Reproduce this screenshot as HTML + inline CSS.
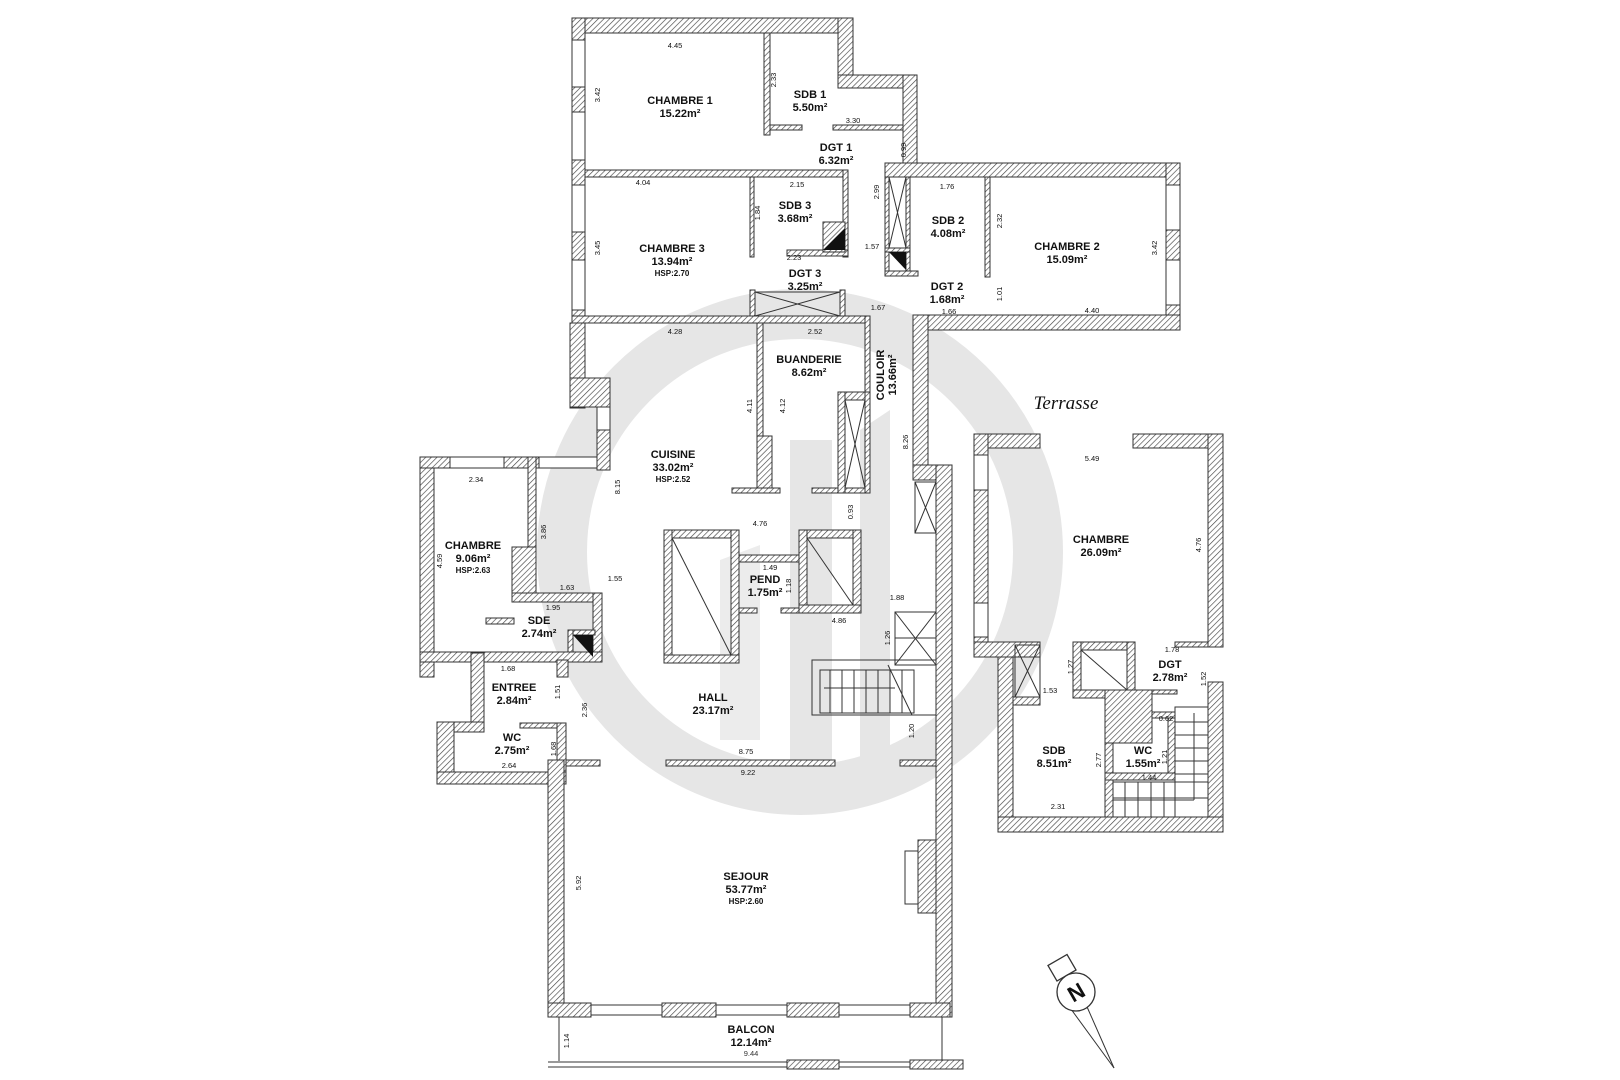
<!DOCTYPE html>
<html><head><meta charset="utf-8"><style>
html,body{margin:0;padding:0;background:#fff}
svg{display:block}
text{font-family:"Liberation Sans",Arial,sans-serif;fill:#111;text-anchor:middle}
.n{font-size:11px;font-weight:bold}
.a{font-size:11px;font-weight:bold}
.h{font-size:8px;font-weight:bold}
.d{font-size:7.5px;fill:#333}
</style></head><body>
<svg width="1620" height="1080" viewBox="0 0 1620 1080" xmlns="http://www.w3.org/2000/svg">
<defs>
<pattern id="ht" patternUnits="userSpaceOnUse" width="4" height="4" patternTransform="rotate(45)">
<rect width="4" height="4" fill="#fff"/><line x1="0" y1="0" x2="0" y2="4" stroke="#444" stroke-width="1.3"/>
</pattern>
</defs>
<!-- watermark -->
<g fill="none" stroke="#e6e6e6">
<circle cx="800" cy="552" r="238" stroke-width="50"/>
</g>
<polygon points="790,440 832,440 832,800 790,800" fill="#e6e6e6"/>
<polygon points="860,430 890,410 890,760 860,780" fill="#e6e6e6"/>
<polygon points="720,560 760,545 760,740 720,740" fill="#ececec"/>

<g fill="url(#ht)" stroke="#333" stroke-width="1">
<!-- top block -->
<rect x="572" y="18" width="281" height="15"/>
<rect x="572" y="18" width="13" height="305"/>
<rect x="838" y="18" width="15" height="70"/>
<rect x="838" y="75" width="79" height="13"/>
<rect x="903" y="75" width="14" height="98"/>
<rect x="764" y="33" width="6" height="102"/>
<rect x="770" y="125" width="32" height="5"/>
<rect x="833" y="125" width="70" height="5"/>
<rect x="585" y="170" width="261" height="7"/>
<rect x="843" y="170" width="5" height="87"/>
<rect x="750" y="177" width="4" height="80"/>
<rect x="787" y="250" width="61" height="6"/>
<rect x="823" y="222" width="22" height="30"/>
<rect x="885" y="163" width="295" height="14"/>
<rect x="885" y="177" width="4" height="98"/>
<rect x="906" y="177" width="4" height="98"/>
<rect x="885" y="248" width="25" height="4"/>
<rect x="885" y="271" width="33" height="5"/>
<rect x="1166" y="163" width="14" height="167"/>
<rect x="913" y="315" width="267" height="15"/>
<rect x="985" y="177" width="5" height="100"/>
<rect x="913" y="315" width="15" height="165"/>
<rect x="750" y="290" width="5" height="30"/>
<rect x="840" y="290" width="5" height="30"/>
<rect x="572" y="316" width="298" height="7"/>
<!-- cuisine / buanderie -->
<rect x="570" y="323" width="15" height="85"/>
<rect x="570" y="378" width="40" height="29"/>
<rect x="597" y="430" width="13" height="40"/>
<rect x="757" y="323" width="6" height="167"/>
<rect x="757" y="436" width="15" height="57"/>
<rect x="732" y="488" width="48" height="5"/>
<rect x="812" y="488" width="58" height="5"/>
<rect x="865" y="316" width="5" height="90"/>
<rect x="838" y="392" width="32" height="8"/>
<rect x="838" y="392" width="7" height="101"/>
<rect x="865" y="392" width="5" height="101"/>
<!-- left chambre -->
<rect x="420" y="457" width="14" height="220"/>
<rect x="420" y="457" width="30" height="11"/>
<rect x="504" y="457" width="35" height="11"/>
<rect x="528" y="457" width="8" height="138"/>
<rect x="512" y="547" width="24" height="48"/>
<rect x="512" y="593" width="90" height="9"/>
<rect x="593" y="593" width="9" height="67"/>
<rect x="486" y="618" width="28" height="6"/>
<rect x="568" y="630" width="27" height="5"/>
<rect x="568" y="630" width="5" height="27"/>
<rect x="420" y="652" width="182" height="10"/>
<rect x="471" y="653" width="13" height="70"/>
<rect x="557" y="660" width="11" height="17"/>
<rect x="437" y="722" width="47" height="10"/>
<rect x="437" y="722" width="17" height="60"/>
<rect x="520" y="723" width="44" height="5"/>
<rect x="557" y="723" width="9" height="55"/>
<rect x="437" y="772" width="129" height="12"/>
<!-- hall -->
<rect x="664" y="530" width="75" height="8"/>
<rect x="664" y="530" width="8" height="133"/>
<rect x="731" y="530" width="8" height="133"/>
<rect x="664" y="655" width="75" height="8"/>
<rect x="799" y="530" width="62" height="8"/>
<rect x="799" y="530" width="8" height="83"/>
<rect x="853" y="530" width="8" height="83"/>
<rect x="799" y="605" width="62" height="8"/>
<rect x="739" y="555" width="60" height="7"/>
<rect x="739" y="608" width="18" height="5"/>
<rect x="781" y="608" width="18" height="5"/>
<rect x="913" y="465" width="39" height="15"/>
<rect x="936" y="465" width="16" height="552"/>
<rect x="548" y="760" width="16" height="257"/>
<rect x="566" y="760" width="34" height="6"/>
<rect x="666" y="760" width="169" height="6"/>
<rect x="900" y="760" width="36" height="6"/>
<rect x="918" y="840" width="18" height="73"/>
<rect x="548" y="1003" width="43" height="14"/>
<rect x="662" y="1003" width="54" height="14"/>
<rect x="787" y="1003" width="52" height="14"/>
<rect x="910" y="1003" width="40" height="14"/>
<rect x="787" y="1060" width="52" height="9"/>
<rect x="910" y="1060" width="53" height="9"/>
<!-- right block -->
<rect x="974" y="434" width="66" height="14"/>
<rect x="1133" y="434" width="90" height="14"/>
<rect x="974" y="434" width="14" height="223"/>
<rect x="1208" y="434" width="15" height="213"/>
<rect x="974" y="642" width="66" height="15"/>
<rect x="998" y="657" width="15" height="175"/>
<rect x="1013" y="697" width="27" height="8"/>
<rect x="1073" y="642" width="62" height="8"/>
<rect x="1073" y="642" width="8" height="55"/>
<rect x="1127" y="642" width="8" height="55"/>
<rect x="1073" y="690" width="79" height="8"/>
<rect x="1105" y="690" width="47" height="53"/>
<rect x="1175" y="642" width="33" height="5"/>
<rect x="1152" y="690" width="25" height="4"/>
<rect x="1152" y="712" width="23" height="6"/>
<rect x="1168" y="718" width="7" height="62"/>
<rect x="1105" y="743" width="8" height="89"/>
<rect x="1105" y="773" width="70" height="7"/>
<rect x="1208" y="682" width="15" height="150"/>
<rect x="998" y="817" width="225" height="15"/>
</g>
<g fill="none" stroke="#333" stroke-width="1">
<!-- windows left outer wall -->
<rect x="572" y="40" width="13" height="47" fill="#fff"/>
<rect x="572" y="112" width="13" height="48" fill="#fff"/>
<rect x="572" y="185" width="13" height="47" fill="#fff"/>
<rect x="572" y="260" width="13" height="50" fill="#fff"/>
<rect x="1166" y="185" width="14" height="45" fill="#fff"/>
<rect x="1166" y="260" width="14" height="45" fill="#fff"/>
<rect x="974" y="455" width="14" height="35" fill="#fff"/>
<rect x="974" y="603" width="14" height="34" fill="#fff"/>
<rect x="450" y="457" width="54" height="11" fill="#fff"/>
<rect x="539" y="457" width="58" height="11" fill="#fff"/>
<rect x="597" y="407" width="13" height="23" fill="#fff"/>
<line x1="591" y1="1005" x2="662" y2="1005"/><line x1="591" y1="1015" x2="662" y2="1015"/>
<line x1="716" y1="1005" x2="787" y2="1005"/><line x1="716" y1="1015" x2="787" y2="1015"/>
<line x1="839" y1="1005" x2="910" y2="1005"/><line x1="839" y1="1015" x2="910" y2="1015"/>
<line x1="548" y1="1062" x2="787" y2="1062"/><line x1="548" y1="1067" x2="787" y2="1067"/>
<line x1="839" y1="1062" x2="910" y2="1062"/><line x1="839" y1="1067" x2="910" y2="1067"/>
<line x1="559" y1="1017" x2="559" y2="1061"/><line x1="942" y1="1017" x2="942" y2="1061"/>
<rect x="905" y="851" width="13" height="53" fill="#fff"/>
<!-- shafts with X -->
<rect x="889" y="177" width="17" height="71"/><line x1="889" y1="177" x2="906" y2="248"/><line x1="906" y1="177" x2="889" y2="248"/>
<rect x="755" y="292" width="85" height="24"/><line x1="755" y1="292" x2="840" y2="316"/><line x1="840" y1="292" x2="755" y2="316"/>
<rect x="845" y="400" width="20" height="88"/><line x1="845" y1="400" x2="865" y2="488"/><line x1="865" y1="400" x2="845" y2="488"/>
<rect x="915" y="482" width="21" height="51"/><line x1="915" y1="482" x2="936" y2="533"/><line x1="936" y1="482" x2="915" y2="533"/>
<rect x="895" y="612" width="41" height="53"/><line x1="895" y1="612" x2="936" y2="665"/><line x1="936" y1="612" x2="895" y2="665"/><line x1="895" y1="638" x2="936" y2="638"/>
<rect x="1015" y="645" width="25" height="52"/><line x1="1015" y1="645" x2="1040" y2="697"/><line x1="1040" y1="645" x2="1015" y2="697"/>
<line x1="672" y1="538" x2="731" y2="655"/>
<line x1="807" y1="538" x2="853" y2="605"/>
<line x1="1081" y1="650" x2="1127" y2="690"/>
<!-- stairs -->
<rect x="812" y="660" width="124" height="55"/>
<rect x="820" y="670" width="94" height="43"/>
<line x1="830" y1="670" x2="830" y2="713"/><line x1="842" y1="670" x2="842" y2="713"/><line x1="854" y1="670" x2="854" y2="713"/><line x1="866" y1="670" x2="866" y2="713"/><line x1="878" y1="670" x2="878" y2="713"/><line x1="890" y1="670" x2="890" y2="713"/><line x1="902" y1="670" x2="902" y2="713"/>
<line x1="824" y1="688" x2="895" y2="688"/><line x1="888" y1="665" x2="912" y2="715"/>
<rect x="1175" y="707" width="33" height="110"/>
<line x1="1175" y1="722" x2="1208" y2="722"/><line x1="1175" y1="735" x2="1208" y2="735"/><line x1="1175" y1="748" x2="1208" y2="748"/><line x1="1175" y1="761" x2="1208" y2="761"/><line x1="1175" y1="774" x2="1208" y2="774"/>
<line x1="1113" y1="782" x2="1208" y2="782"/><line x1="1113" y1="798" x2="1208" y2="798"/>
<line x1="1125" y1="782" x2="1125" y2="817"/><line x1="1138" y1="782" x2="1138" y2="817"/><line x1="1151" y1="782" x2="1151" y2="817"/><line x1="1164" y1="782" x2="1164" y2="817"/>
<line x1="1194" y1="713" x2="1194" y2="800"/><line x1="1113" y1="800" x2="1194" y2="800"/>
<!-- compass -->
<line x1="1068" y1="1005" x2="1114" y2="1068"/><line x1="1084" y1="1000" x2="1114" y2="1068"/>
<g transform="rotate(-30 1076 992)"><rect x="1065" y="955" width="22" height="18" fill="#fff" stroke-width="1.3"/></g>
<circle cx="1076" cy="992" r="19" fill="#fff" stroke-width="1.3"/>
</g>
<polygon points="823,250 845,250 845,228" fill="#111"/>
<polygon points="889,252 906,252 906,270" fill="#111"/>
<polygon points="573,635 593,635 593,657" fill="#111"/>
<text x="1076" y="1000" transform="rotate(-30 1076 992)" style="font-size:22px;font-weight:bold">N</text>

<!-- labels -->
<text class="n" x="680" y="104">CHAMBRE 1</text><text class="a" x="680" y="117">15.22m²</text>
<text class="n" x="810" y="98">SDB 1</text><text class="a" x="810" y="111">5.50m²</text>
<text class="n" x="836" y="151">DGT 1</text><text class="a" x="836" y="164">6.32m²</text>
<text class="n" x="672" y="252">CHAMBRE 3</text><text class="a" x="672" y="265">13.94m²</text><text class="h" x="672" y="276">HSP:2.70</text>
<text class="n" x="795" y="209">SDB 3</text><text class="a" x="795" y="222">3.68m²</text>
<text class="n" x="805" y="277">DGT 3</text><text class="a" x="805" y="290">3.25m²</text>
<text class="n" x="948" y="224">SDB 2</text><text class="a" x="948" y="237">4.08m²</text>
<text class="n" x="1067" y="250">CHAMBRE 2</text><text class="a" x="1067" y="263">15.09m²</text>
<text class="n" x="947" y="290">DGT 2</text><text class="a" x="947" y="303">1.68m²</text>
<text class="n" x="809" y="363">BUANDERIE</text><text class="a" x="809" y="376">8.62m²</text>
<text class="n" transform="translate(884,375) rotate(-90)" x="0" y="0">COULOIR</text>
<text class="a" transform="translate(896,375) rotate(-90)" x="0" y="0">13.66m²</text>
<text class="n" x="673" y="458">CUISINE</text><text class="a" x="673" y="471">33.02m²</text><text class="h" x="673" y="482">HSP:2.52</text>
<text x="1066" y="409" style="font-family:'Liberation Serif',serif;font-style:italic;font-size:19px">Terrasse</text>
<text class="n" x="1101" y="543">CHAMBRE</text><text class="a" x="1101" y="556">26.09m²</text>
<text class="n" x="473" y="549">CHAMBRE</text><text class="a" x="473" y="562">9.06m²</text><text class="h" x="473" y="573">HSP:2.63</text>
<text class="n" x="539" y="624">SDE</text><text class="a" x="539" y="637">2.74m²</text>
<text class="n" x="765" y="583">PEND</text><text class="a" x="765" y="596">1.75m²</text>
<text class="n" x="514" y="691">ENTREE</text><text class="a" x="514" y="704">2.84m²</text>
<text class="n" x="713" y="701">HALL</text><text class="a" x="713" y="714">23.17m²</text>
<text class="n" x="512" y="741">WC</text><text class="a" x="512" y="754">2.75m²</text>
<text class="n" x="1170" y="668">DGT</text><text class="a" x="1170" y="681">2.78m²</text>
<text class="n" x="1054" y="754">SDB</text><text class="a" x="1054" y="767">8.51m²</text>
<text class="n" x="1143" y="754">WC</text><text class="a" x="1143" y="767">1.55m²</text>
<text class="n" x="746" y="880">SEJOUR</text><text class="a" x="746" y="893">53.77m²</text><text class="h" x="746" y="904">HSP:2.60</text>
<text class="n" x="751" y="1033">BALCON</text><text class="a" x="751" y="1046">12.14m²</text><text class="d" x="751" y="1056">9.44</text>

<!-- dims -->
<g class="d">
<text x="675" y="48">4.45</text><text x="643" y="185">4.04</text><text x="797" y="187">2.15</text>
<text x="853" y="123">3.30</text><text x="794" y="260">2.23</text><text x="947" y="189">1.76</text>
<text x="1092" y="313">4.40</text><text x="949" y="314">1.66</text><text x="878" y="310">1.67</text>
<text x="675" y="334">4.28</text><text x="815" y="334">2.52</text>
<text x="615" y="581">1.55</text><text x="476" y="482">2.34</text><text x="567" y="590">1.63</text>
<text x="553" y="610">1.95</text><text x="508" y="671">1.68</text><text x="509" y="768">2.64</text>
<text x="760" y="526">4.76</text><text x="770" y="570">1.49</text><text x="839" y="623">4.86</text>
<text x="897" y="600">1.88</text><text x="746" y="754">8.75</text><text x="748" y="775">9.22</text>
<text x="1092" y="461">5.49</text><text x="1172" y="652">1.78</text><text x="1149" y="780">1.44</text>
<text x="1058" y="809">2.31</text><text x="1166" y="721">0.62</text>
<text transform="translate(600,95) rotate(-90)">3.42</text>
<text transform="translate(776,80) rotate(-90)">2.33</text>
<text transform="translate(906,150) rotate(-90)">0.99</text>
<text transform="translate(879,192) rotate(-90)">2.99</text>
<text transform="translate(600,248) rotate(-90)">3.45</text>
<text transform="translate(760,213) rotate(-90)">1.84</text>
<text transform="translate(1002,221) rotate(-90)">2.32</text>
<text transform="translate(1157,248) rotate(-90)">3.42</text>
<text transform="translate(1002,294) rotate(-90)">1.01</text>
<text transform="translate(752,406) rotate(-90)">4.11</text>
<text transform="translate(785,406) rotate(-90)">4.12</text>
<text transform="translate(620,487) rotate(-90)">8.15</text>
<text transform="translate(908,442) rotate(-90)">8.26</text>
<text transform="translate(853,512) rotate(-90)">0.93</text>
<text transform="translate(546,532) rotate(-90)">3.86</text>
<text transform="translate(442,561) rotate(-90)">4.59</text>
<text transform="translate(791,586) rotate(-90)">1.18</text>
<text transform="translate(890,638) rotate(-90)">1.26</text>
<text transform="translate(560,692) rotate(-90)">1.51</text>
<text transform="translate(587,710) rotate(-90)">2.36</text>
<text transform="translate(556,749) rotate(-90)">1.68</text>
<text transform="translate(914,731) rotate(-90)">1.20</text>
<text transform="translate(581,883) rotate(-90)">5.92</text>
<text transform="translate(569,1041) rotate(-90)">1.14</text>
<text transform="translate(1201,545) rotate(-90)">4.76</text>
<text transform="translate(1073,667) rotate(-90)">1.27</text>
<text transform="translate(1101,760) rotate(-90)">2.77</text>
<text transform="translate(1167,757) rotate(-90)">1.21</text>
<text transform="translate(1206,679) rotate(-90)">1.52</text>
<text x="1050" y="693">1.53</text><text x="872" y="249">1.57</text>
</g>
</svg>
</body></html>
